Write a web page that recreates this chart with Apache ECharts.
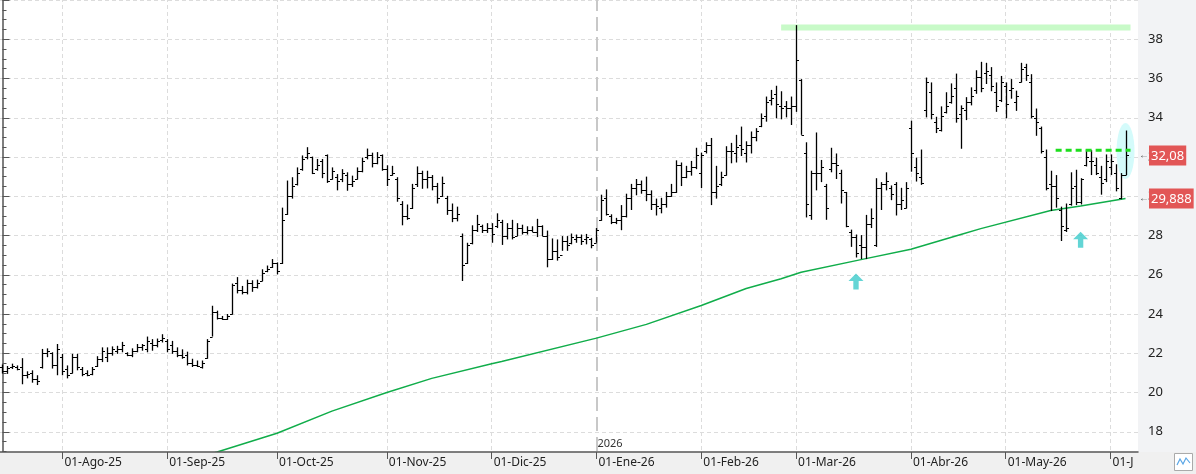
<!DOCTYPE html>
<html>
<head>
<meta charset="utf-8">
<title>Cotización diaria</title>
<script src="https://cdn.jsdelivr.net/npm/echarts@6/dist/echarts.min.js"></script>
</head>
<body style="margin:0">
<div id="container" style="width:1196px;height:474px"></div>
<script>
// barras diarias: [apertura, cierre, minimo, maximo]
var bars = [
  [21.3,21.1,20.97,21.43],[21.1,21.25,20.95,21.35],[21.3,21.35,21.2,21.47],[21.3,21.2,21.13,21.38],
  [21.3,20.9,20.42,21.75],[20.9,20.95,20.72,21.08],[21.0,20.7,20.5,21.13],[20.7,20.6,20.38,20.88],
  [21.3,22.0,21.22,22.22],[22.0,22.1,21.8,22.25],[22.0,21.4,21.22,22.05],[21.4,22.2,20.88,22.47],
  [21.8,21.1,20.88,21.97],[21.2,20.9,20.72,21.38],[21.0,21.8,20.97,21.97],[21.8,21.3,21.13,21.97],
  [21.2,20.95,20.83,21.3],[21.0,20.9,20.83,21.13],[20.95,21.2,20.88,21.3],[21.35,21.7,21.3,21.85],
  [21.7,22.1,21.55,22.3],[21.8,22.0,21.55,22.3],[22.0,22.2,21.88,22.35],[22.1,22.2,21.97,22.38],
  [22.2,22.4,22.05,22.58],[22.0,21.9,21.85,22.05],[21.9,22.1,21.8,22.25],[22.1,22.3,22.05,22.47],
  [22.3,22.4,22.13,22.47],[22.2,22.6,22.05,22.85],[22.5,22.4,22.13,22.72],[22.4,22.6,22.3,22.75],
  [22.7,22.8,22.55,22.97],[22.6,22.2,22.05,22.72],[22.4,22.1,21.97,22.63],[22.1,21.9,21.8,22.3],
  [21.9,21.8,21.72,22.2],[21.9,21.5,21.38,22.08],[21.5,21.4,21.3,21.72],[21.4,21.35,21.3,21.63],
  [21.3,21.5,21.22,21.63],[21.75,22.6,21.72,22.72],[22.85,24.1,22.85,24.42],[24.1,23.8,23.72,24.17],
  [23.8,23.75,23.7,23.9],[23.75,23.9,23.7,24.0],[24.0,25.5,23.97,25.55],[25.6,25.2,25.05,25.88],
  [25.2,25.1,25.0,25.43],[25.1,25.6,25.0,25.75],[25.6,25.4,25.13,25.72],[25.4,25.6,25.3,25.75],
  [25.7,26.1,25.67,26.28],[26.2,26.3,26.13,26.47],[26.4,26.6,26.35,26.8],[26.6,26.2,26.02,26.63],
  [26.6,28.8,26.55,29.42],[29.1,30.0,29.05,30.8],[30.0,30.5,29.88,30.97],[30.6,31.2,30.55,31.47],
  [31.4,31.9,31.3,32.08],[32.0,32.2,31.88,32.5],[32.0,31.2,31.13,32.02],[31.4,31.6,31.3,31.9],
  [31.8,31.2,30.92,31.9],[32.1,30.8,30.68,32.13],[30.9,31.3,30.85,31.47],[31.0,30.8,30.3,31.13],
  [30.9,31.2,30.72,31.38],[31.1,30.6,30.28,31.22],[30.6,30.8,30.47,31.05],[30.9,31.3,30.85,31.47],
  [31.3,31.8,31.22,31.97],[32.0,32.1,31.88,32.43],[32.1,31.7,31.47,32.22],[31.7,32.0,31.63,32.25],
  [32.1,31.4,31.3,32.13],[31.4,30.9,30.52,31.58],[31.1,31.2,31.05,31.55],[30.9,29.9,29.72,30.97],
  [29.6,29.0,28.52,29.75],[29.0,28.9,28.8,29.58],[29.4,30.4,29.35,30.63],[30.6,31.2,30.47,31.52],
  [31.2,30.9,30.38,31.3],[30.9,31.0,30.4,31.3],[31.0,30.5,30.3,31.08],[30.5,29.9,29.63,30.68],
  [30.0,30.7,29.97,31.0],[29.9,29.3,29.05,30.02],[29.3,28.9,28.68,29.63],[28.9,29.1,28.72,29.47],
  [28.0,26.5,25.68,28.1],[26.6,27.5,26.55,27.63],[27.6,28.3,27.55,28.52],[28.3,28.6,28.18,29.05],
  [28.5,28.3,28.13,28.55],[28.3,28.4,28.13,28.63],[28.4,28.1,27.63,28.63],[28.5,28.8,28.38,29.13],
  [28.7,28.0,27.52,28.8],[28.0,28.4,27.8,28.63],[28.4,27.9,27.8,28.8],[28.0,28.4,27.97,28.63],
  [28.4,28.2,28.05,28.55],[28.2,28.3,28.05,28.47],[28.3,28.2,28.18,28.47],[28.2,28.5,27.92,28.85],
  [28.5,28.0,27.97,28.52],[28.0,26.8,26.38,28.25],[26.8,27.2,26.75,27.85],[27.2,26.9,26.72,27.8],
  [27.0,27.7,27.22,27.97],[27.7,27.5,27.22,27.97],[27.6,27.9,27.55,28.1],[27.8,27.9,27.63,28.05],
  [27.9,27.7,27.52,28.05],[27.8,27.9,27.55,28.08],[27.8,27.5,27.35,27.88],[27.6,28.3,27.63,28.38],
  [28.8,29.8,28.75,30.08],[29.9,29.1,29.02,30.35],[29.0,28.7,28.58,29.08],[28.7,28.8,28.58,28.9],
  [28.8,29.0,28.27,29.55],[29.0,29.9,28.92,30.13],[29.9,30.4,29.3,30.63],[30.4,30.6,30.05,30.88],
  [30.6,30.3,30.13,30.8],[30.3,30.1,29.75,31.0],[30.1,29.6,29.3,30.3],[29.6,29.5,29.02,29.88],
  [29.4,29.6,29.13,29.92],[29.6,30.0,29.42,30.22],[30.0,30.2,29.97,30.63],[30.2,31.6,30.17,31.83],
  [31.6,31.0,30.52,31.72],[31.0,31.3,30.92,31.55],[31.3,31.5,31.05,31.8],[31.5,32.1,31.38,32.47],
  [31.2,32.1,30.42,32.22],[32.3,32.6,32.18,32.75],[32.6,30.2,29.55,32.97],[30.2,30.5,29.88,31.55],
  [30.6,31.0,30.52,31.25],[31.1,32.3,31.05,32.55],[32.3,32.3,31.68,32.72],[32.2,32.5,31.72,33.13],
  [32.6,32.4,32.05,33.55],[32.2,32.6,31.72,32.8],[32.6,33.0,32.18,33.3],[33.0,33.3,32.8,33.47],
  [33.6,34.0,33.52,34.22],[34.1,34.8,33.8,35.08],[34.9,35.0,34.63,35.42],[35.2,34.7,33.97,35.63],
  [34.6,34.5,33.92,35.35],[34.6,34.5,34.02,34.85],[34.5,34.6,33.63,35.08],[34.6,36.95,34.3,38.72],
  [35.9,33.13,33.13,35.97],[32.2,29.6,28.92,32.75],[29.05,31.2,28.8,31.3],[31.2,31.2,30.3,33.25],
  [31.2,31.5,30.72,31.85],[30.5,29.4,28.8,30.63],[31.4,31.7,31.22,32.47],[31.7,31.6,30.88,32.18],
  [31.2,30.3,29.63,31.35],[30.2,28.5,28.42,30.22],[28.2,27.9,27.42,28.3],[27.9,27.1,26.88,28.05],
  [27.5,27.4,26.8,28.02],[27.4,28.6,26.8,29.05],[28.6,28.9,28.38,29.38],[27.5,30.4,27.42,30.92],
  [30.4,30.6,29.3,30.72],[30.6,30.8,30.3,31.22],[30.4,30.1,29.8,30.55],[30.6,29.6,29.02,30.72],
  [29.6,29.8,29.3,30.43],[29.4,30.4,29.38,30.72],[33.5,32.2,31.25,33.85],[31.5,31.2,30.75,31.97],
  [31.0,30.7,30.58,32.38],[34.4,35.8,34.02,36.05],[35.3,34.2,33.92,35.8],[33.8,33.5,33.22,34.05],
  [33.4,34.1,33.3,34.58],[34.3,34.6,34.22,35.3],[34.8,35.1,34.72,35.75],[35.5,34.0,33.75,36.25],
  [34.2,34.5,32.42,34.63],[34.4,34.8,33.88,35.05],[34.8,35.1,34.63,35.55],[35.4,36.1,35.22,36.42],
  [36.1,35.5,35.3,36.85],[36.3,36.4,35.72,36.8],[36.2,35.6,35.35,36.58],[35.3,34.6,34.3,35.8],
  [34.9,35.8,34.8,36.13],[35.6,34.7,33.97,35.8],[35.4,35.5,34.97,35.97],[34.8,35.1,34.35,35.38],
  [35.8,36.5,35.8,36.8],[36.6,36.2,35.88,36.75],[35.8,34.1,33.97,36.22],[34.0,33.8,33.08,34.47],
  [33.5,32.3,32.18,33.55],[32.0,30.4,30.3,32.38],[30.6,30.5,29.25,31.3],[30.5,29.9,29.42,31.08],
  [29.3,28.5,27.72,29.47],[28.3,28.4,28.18,29.63],[29.6,30.4,29.52,31.22],[30.5,29.7,29.55,31.35],
  [29.7,30.9,29.58,30.92],[31.6,32.0,31.52,32.38],[31.8,31.8,31.08,32.35],[31.6,31.2,31.08,31.97],
  [31.0,30.7,30.08,31.55],[30.9,31.8,30.72,32.13],[31.5,31.8,31.08,32.13],[31.2,30.4,30.25,31.63],
  [29.9,31.1,29.85,31.18],[31.1,32.08,31.08,33.35]
];
var slots = 228; // huecos del eje x (la última barra deja margen a la derecha)

// eje de fechas: posición de la barra del primer día de cada mes
var monthIdx = [12, 33, 55, 77, 98, 119, 140, 159, 182, 201, 222];
var monthLabels = ['01-Ago-25', '01-Sep-25', '01-Oct-25', '01-Nov-25', '01-Dic-25', '01-Ene-26',
                   '01-Feb-26', '01-Mar-26', '01-Abr-26', '01-May-26', '01-J'];
var yearIdx = 119;
var yearLabel = '2026';

// media móvil (lecturas sobre la curva)
var maPoints = [[30,16.0],[43,16.97],[55,17.92],[66,19.05],[77,20.0],[86,20.72],[98,21.47],
  [100,21.58],[119,22.77],[129,23.47],[140,24.43],[149,25.3],[156,25.8],[160,26.13],[172,26.77],
  [182,27.3],[192,28.05],[196,28.35],[210,29.27],[216,29.5],[225,29.89]];

// dibujos del analista
var resistance = [[156, 38.6], [226, 38.6]];
var breakout = [[211, 32.35], [226, 32.35]];
var supportArrows = [[171, 25.65], [216, 27.78]];
var highlight = [[225, 32.3]];
var lastClose = 32.08;
var maLast = 29.888;

var myChart = echarts.init(document.getElementById('container'));

var ohlc = bars.map(function (b, i) { return [i, b[0], b[1], b[2], b[3]]; });

function renderBar(params, api) {
  var x = Math.round(api.coord([api.value(0), 0])[0]) + 0.5;
  var yo = Math.round(api.coord([0, api.value(1)])[1]) + 0.5;
  var yc = Math.round(api.coord([0, api.value(2)])[1]) + 0.5;
  var yl = api.coord([0, api.value(3)])[1];
  var yh = api.coord([0, api.value(4)])[1];
  return {
    type: 'group',
    children: [
      { type: 'line', shape: { x1: x, y1: yl, x2: x, y2: yh }, style: { stroke: '#000', lineWidth: 1.3 } },
      { type: 'line', shape: { x1: x - 2.5, y1: yo, x2: x, y2: yo }, style: { stroke: '#000', lineWidth: 1 } },
      { type: 'line', shape: { x1: x, y1: yc, x2: x + 2.5, y2: yc }, style: { stroke: '#000', lineWidth: 1 } }
    ]
  };
}

function fmtComa(v) { return String(v).replace('.', ','); }

var gridLines = monthIdx.filter(function (i) { return i !== yearIdx; }).map(function (i) {
  return { xAxis: i };
});
gridLines.push({ xAxis: yearIdx, lineStyle: { color: '#c8c8c8', width: 2, type: [14, 6] } });

function priceTag(v) {
  return {
    coord: [slots - 0.5, v],
    label: {
      show: true,
      position: 'right',
      distance: 0,
      formatter: '{a|←}{b|' + fmtComa(v) + '}',
      rich: {
        a: { color: '#555', fontSize: 10, padding: [0, 0, 0, 1] },
        b: { color: '#fff', fontSize: 13, backgroundColor: '#e25656', padding: [4, 2, 3, 2],
             fontFamily: 'Noto Sans' }
      }
    }
  };
}

option = {
  animation: false,
  backgroundColor: '#f2f3f5',
  textStyle: { fontFamily: 'Noto Sans' },
  grid: { left: 0, right: 58, top: -9, bottom: 3, show: true, backgroundColor: '#fff', borderWidth: 0 },
  xAxis: {
    type: 'value',
    min: -0.5,
    max: slots - 0.5,
    z: 20,
    offset: -19,
    axisLine: { lineStyle: { color: '#555', width: 1.5 } },
    axisTick: { customValues: monthIdx, length: 7, lineStyle: { color: '#555' } },
    axisLabel: {
      customValues: monthIdx,
      formatter: function (v) { return monthLabels[monthIdx.indexOf(v)]; },
      align: 'left',
      margin: 5,
      padding: [0, 0, 0, 2],
      color: '#222',
      fontSize: 12
    },
    splitLine: { show: false }
  },
  yAxis: {
    type: 'value',
    position: 'right',
    min: 16,
    max: 40,
    interval: 2,
    axisLine: { show: true, lineStyle: { color: '#555', width: 1.5 } },
    axisTick: { show: true, length: 7, lineStyle: { color: '#555' } },
    minorTick: { show: true, splitNumber: 4, length: 4, lineStyle: { color: '#555' } },
    axisLabel: { color: '#222', fontSize: 13, margin: 10, showMinLabel: false, showMaxLabel: false },
    splitLine: { lineStyle: { color: '#dcdcdc', type: [4, 3] } }
  },
  graphic: [
    { type: 'rect', z: 10, silent: true, shape: { x: 0, y: 452, width: 1196, height: 22 },
      style: { fill: '#f0f0f0' } },
    { type: 'rect', z: 11, silent: true, shape: { x: 1174.5, y: 453.5, width: 18, height: 17 },
      style: { fill: '#fff', stroke: '#aaa', lineWidth: 1 } },
    { type: 'polyline', z: 12, silent: true,
      shape: { points: [[1177, 465], [1180, 459], [1183, 464], [1186, 458], [1190, 463]] },
      style: { stroke: '#5aa6e6', fill: null, lineWidth: 1.2 } }
  ],
  series: [
    {
      name: 'marco',
      type: 'line',
      data: [],
      silent: true,
      z: 1,
      markLine: {
        z: 1,
        silent: true,
        symbol: 'none',
        label: { show: false },
        lineStyle: { color: '#dcdcdc', type: [4, 3], width: 1 },
        data: gridLines
      },
      markPoint: {
        z: 1,
        silent: true,
        symbol: 'circle',
        symbolSize: 0,
        label: { show: true, position: 'right', distance: 1, color: '#333', fontSize: 11,
                 formatter: yearLabel },
        data: [{ coord: [yearIdx, 17.4] }]
      }
    },
    {
      name: 'zona',
      type: 'scatter',
      data: highlight,
      symbol: 'circle',
      symbolSize: [18, 56],
      itemStyle: { color: 'rgba(196,250,250,0.9)' },
      silent: true,
      z: 2
    },
    {
      name: 'resistencia',
      type: 'line',
      data: resistance,
      symbol: 'none',
      lineStyle: { color: '#c8fac8', width: 6 },
      silent: true,
      z: 2,
      markPoint: {
        z: 30,
        silent: true,
        symbol: 'circle',
        symbolSize: 0,
        data: [priceTag(lastClose), priceTag(maLast)]
      }
    },
    {
      name: 'media',
      type: 'line',
      data: maPoints,
      symbol: 'none',
      lineStyle: { color: '#10ad4a', width: 1.5 },
      silent: true,
      z: 3
    },
    {
      name: 'precio',
      type: 'custom',
      renderItem: renderBar,
      data: ohlc,
      encode: { x: 0, y: [1, 2, 3, 4] },
      silent: true,
      z: 4
    },
    {
      name: 'rotura',
      type: 'line',
      data: breakout,
      symbol: 'none',
      lineStyle: { color: '#1ede1e', width: 3, type: [6, 4] },
      silent: true,
      z: 5
    },
    {
      name: 'soportes',
      type: 'scatter',
      data: supportArrows,
      symbol: 'path://M7,0 L14,7 L9.5,7 L9.5,15 L4.5,15 L4.5,7 L0,7 Z',
      symbolSize: [15, 16],
      itemStyle: { color: '#3ccaca' },
      silent: true,
      z: 5
    }
  ]
};

myChart.setOption(option);
</script>
</body>
</html>
